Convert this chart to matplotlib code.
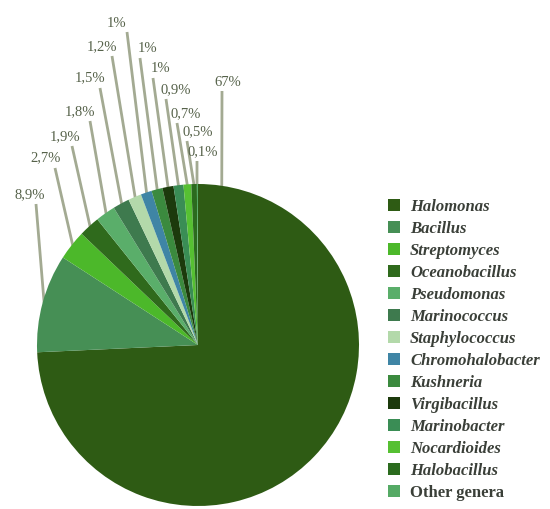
import numpy as np
import matplotlib
matplotlib.use("Agg")
import matplotlib.pyplot as plt
from matplotlib.patches import Patch

genera = ["Halomonas", "Bacillus", "Streptomyces", "Oceanobacillus", "Pseudomonas",
          "Marinococcus", "Staphylococcus", "Chromohalobacter", "Kushneria",
          "Virgibacillus", "Marinobacter", "Nocardioides", "Halobacillus", "Other genera"]
values = [67, 8.9, 2.7, 1.9, 1.8, 1.5, 1.2, 1, 1, 1, 0.9, 0.7, 0.5, 0.1]
pct_labels = ["67%", "8,9%", "2,7%", "1,9%", "1,8%", "1,5%", "1,2%", "1%", "1%", "1%",
              "0,9%", "0,7%", "0,5%", "0,1%"]
colors = ["#2e5b14", "#468f55", "#4cb82a", "#2f6a1c", "#5aae6a", "#3e7a4e", "#b3d9aa",
          "#3f85a5", "#3b8a3e", "#1c3a0c", "#3a8d55", "#56c032", "#2b6b1e", "#55aa65"]

# layout: label text centre (pixels from top-left), line top (pixels)
W, H = 550, 509
cx, cy, R = 198, 345, 161
text_px = [(228, 82), (30, 195), (46, 158), (65, 137), (80, 112), (90, 78), (102, 47),
           (117, 23), (148, 48), (161, 68), (176, 90), (186, 114), (198, 132), (203, 152)]
line_px = [(222, 91), (36, 204), (55, 168), (72, 146), (90, 121), (100, 88), (112, 56),
           (127, 32), (140, 58), (153, 78), (166, 99), (177, 123), (187, 141), (197, 161)]

fig = plt.figure(figsize=(W / 100, H / 100), dpi=100)
axw = 370
ax = fig.add_axes([0, 0, axw / W, 1])

wedges, _ = ax.pie(values, colors=colors, startangle=90, counterclock=False,
                   radius=1, center=(0, 0), frame=True,
                   wedgeprops=dict(linewidth=0))
ax.set_xlim(-cx / R, (axw - cx) / R)
ax.set_ylim(-(H - cy) / R, cy / R)
ax.set_aspect("equal")
ax.axis("off")

def to_data(p):
    return ((p[0] - cx) / R, (cy - p[1]) / R)

for w, lab, tp, lp in zip(wedges, pct_labels, text_px, line_px):
    lx, ly = to_data(lp)
    t1, t2 = sorted([w.theta1, w.theta2])
    ang = None
    if abs(lx) < 1:
        a = np.degrees(np.arccos(lx))
        for cand in (a, a - 360, a + 360):
            if t1 <= cand <= t2:
                ang = cand
                break
    if ang is None:
        ang = (w.theta1 + w.theta2) / 2
    ang = np.deg2rad(ang)
    ex, ey = 0.99 * np.cos(ang), 0.99 * np.sin(ang)
    ax.plot([lx, ex], [ly, ey], color="#a3aa92", lw=2.0, solid_capstyle="butt",
            zorder=0, clip_on=False)
    tx, ty = to_data(tp)
    ax.text(tx, ty, lab, ha="center", va="center", fontsize=10.5,
            family="Liberation Serif", color="#56624a", clip_on=False)

handles = [Patch(facecolor=c, edgecolor="none") for c in colors]
leg = fig.legend(handles, genera, loc="upper left", bbox_to_anchor=(388 / W, 1 - 199 / H),
                 frameon=False, handlelength=0.72, handleheight=0.72, handletextpad=0.6,
                 labelspacing=0.36, borderpad=0, borderaxespad=0,
                 prop=dict(family="Liberation Serif", size=12, style="italic", weight="bold"))
for t in leg.get_texts():
    t.set_color("#3a3f38")
leg.get_texts()[-1].set_style("normal")

fig.savefig("out.png", dpi=100)
